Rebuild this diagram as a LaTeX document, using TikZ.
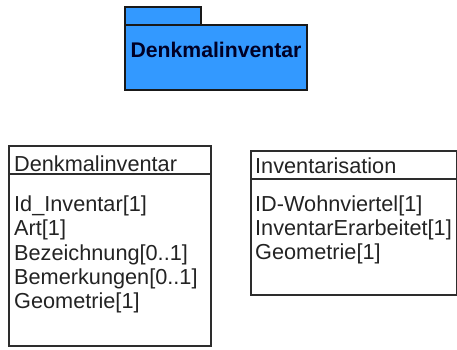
\documentclass[tikz,border=0pt]{standalone}
\usepackage{fontspec}
\setmainfont{Liberation Sans}
\definecolor{pkgblue}{RGB}{51,153,255}
\definecolor{linegray}{RGB}{45,45,45}
\definecolor{textgray}{RGB}{35,35,35}

\begin{document}
\begin{tikzpicture}[x=1bp,y=-1bp,
    pkg/.style={draw=black!90,line width=1.6bp,fill=pkgblue,inner sep=0pt,outer sep=0pt,anchor=north west},
    cls/.style={draw=linegray,line width=1.6bp,inner sep=0pt,outer sep=0pt,anchor=north west},
    attr/.style={anchor=base west,inner sep=0pt,text=textgray,font=\fontsize{21.7bp}{24bp}\selectfont}]
  \useasboundingbox (0,0) rectangle (457,349);
  \node[pkg,minimum width=76bp,minimum height=18bp] (pkgtab) at (125,7) {};
  \node[pkg,minimum width=182bp,minimum height=65bp] (pkgbody) at (125,25) {};
  \node[anchor=base,inner sep=0pt,text=black!85!blue,font=\bfseries\fontsize{21.2bp}{24bp}\selectfont] (pkgname) at (216,57) {Denkmalinventar};

  \node[cls,minimum width=202bp,minimum height=28bp] (dkhead) at (9,146) {};
  \node[cls,minimum width=202bp,minimum height=172bp] (dkbody) at (9,174) {};
  \node[attr] (dkname) at (14,171) {Denkmalinventar};
  \node[attr] (dkid) at (14,211) {Id\_Inventar[1]};
  \node[attr] (dkart) at (14,235) {Art[1]};
  \node[attr] (dkbez) at (14,260) {Bezeichnung[0..1]};
  \node[attr] (dkbem) at (14,284) {Bemerkungen[0..1]};
  \node[attr] (dkgeo) at (14,308) {Geometrie[1]};

  \node[cls,minimum width=206bp,minimum height=28bp] (invhead) at (251,151) {};
  \node[cls,minimum width=206bp,minimum height=116bp] (invbody) at (251,179) {};
  \node[attr] (invname) at (255,173) {Inventarisation};
  \node[attr] (invwohn) at (255,211) {ID-Wohnviertel[1]};
  \node[attr] (inverar) at (255,235) {InventarErarbeitet[1]};
  \node[attr] (invgeo) at (255,259) {Geometrie[1]};
\end{tikzpicture}
\end{document}
